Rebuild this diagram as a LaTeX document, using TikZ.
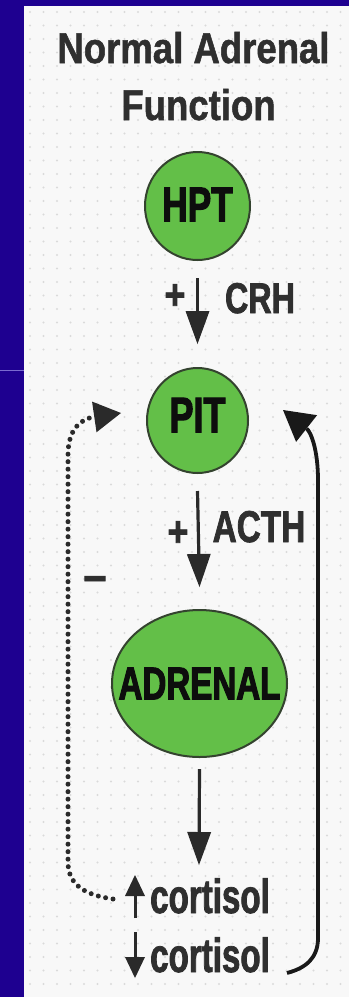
\documentclass[tikz,border=0pt]{standalone}
\usepackage{fontspec}
\setmainfont{Liberation Sans}
\newfontfamily\ttlfont[FakeStretch=0.85,FakeBold=1.2]{Liberation Sans}
\newfontfamily\symfont[FakeStretch=0.85,FakeBold=2]{Liberation Sans}
\newfontfamily\lblfont[FakeStretch=0.75,FakeBold=1.6]{Liberation Sans}
\newfontfamily\orgfont[FakeStretch=0.72,FakeBold=2.2]{Liberation Sans}
\newfontfamily\ctlfont[FakeStretch=0.69,FakeBold=1.6]{Liberation Sans}
\usetikzlibrary{arrows.meta,shapes.geometric}
\definecolor{bgblue}{HTML}{1E0090}
\definecolor{bgline}{HTML}{7A6AD0}
\definecolor{panel}{HTML}{F8F8F8}
\definecolor{dotc}{HTML}{DADADA}
\definecolor{organgreen}{HTML}{63BF48}
\definecolor{edge}{HTML}{34432F}
\definecolor{txt}{HTML}{2F2F2F}
\definecolor{arrc}{HTML}{2A2A2A}
\tikzset{
  ttl/.style={font=\ttlfont\bfseries\fontsize{43}{43}\selectfont, text=txt, inner sep=0pt},
  lbl/.style={font=\lblfont\bfseries\fontsize{43}{43}\selectfont, text=txt, inner sep=0pt},
  ctl/.style={font=\ctlfont\bfseries\fontsize{48}{48}\selectfont, text=txt, inner sep=0pt},
  sym/.style={font=\symfont\bfseries\fontsize{42}{42}\selectfont, text=txt, inner sep=0pt},
  organ/.style={ellipse, draw=edge, line width=2pt, fill=organgreen, inner sep=0pt},
  orglbl/.style={font=\orgfont\bfseries\fontsize{49}{49}\selectfont, text=black!95, inner sep=0pt},
  arr/.style={line width=3.2pt, draw=arrc, -{Triangle[length=33pt,width=24pt,line width=0pt]}},
  sarr/.style={line width=3pt, draw=arrc, -{Triangle[length=21pt,width=20pt,line width=0pt]}},
  fbsolid/.style={line width=3.8pt, draw=black!90, -{Triangle[length=30pt,width=34pt,line width=0pt]}},
  fbdot/.style={line width=5pt, line cap=round, dash pattern=on 0pt off 7.5pt, draw=arrc, -{Triangle[length=27pt,width=31pt,line width=0pt]}}
}
\begin{document}
\begin{tikzpicture}[x=1pt,y=-1pt]
\useasboundingbox (0,0) rectangle (349,997);
\fill[bgblue] (0,0) rectangle (349,997);
\fill[panel] (24,6) rectangle (349,997);
\draw[bgline, line width=1pt] (0,370) -- (24,370);
\foreach \i in {0,...,23} {
  \foreach \j in {0,...,72} {
    \fill[dotc] (30+13.5*\i, 12+13.5*\j) circle (1.2);
  }
}
% title
\node[ttl, anchor=base] (t1) at (193.5,63) {Normal Adrenal};
\node[ttl, anchor=base] (t2) at (198.5,120) {Function};
% organs
\node[organ, minimum width=105pt, minimum height=108pt,
      label={[orglbl, yshift=1.5pt]center:HPT}] (hpt) at (197.5,206) {};
\node[organ, minimum width=101pt, minimum height=105pt,
      label={[orglbl, yshift=5.5pt, font=\orgfont\bfseries\fontsize{50}{50}\selectfont]center:PIT}] (pit) at (197.5,420.5) {};
\node[organ, minimum width=175pt, minimum height=147pt,
      label={[orglbl, font=\orgfont\bfseries\fontsize{46}{46}\selectfont]center:ADRENAL}] (adr) at (199.5,683.5) {};
% labels
\node[lbl, anchor=base] (crh) at (260,313) {CRH};
\node[lbl, anchor=base, font=\lblfont\bfseries\fontsize{44.5}{44.5}\selectfont] (acth) at (259,542) {ACTH};
\node[sym, anchor=base] (p1) at (175,309) {+};
\node[sym, anchor=base] (p2) at (178,546) {+};
\node[sym, anchor=base, font=\symfont\bfseries\fontsize{48}{48}\selectfont] (mn) at (95,591.5) {–};
\node[ctl, anchor=base west] (c1) at (150,913) {cortisol};
\node[ctl, anchor=base west] (c2) at (150,972) {cortisol};
% coordinates
\coordinate (cA) at (199,865);
\coordinate (u1) at (135,918);
\coordinate (u2) at (135,875);
\coordinate (d1) at (135,932);
\coordinate (d2) at (135,978);
\coordinate (fb1) at (113,899);
\coordinate (pitL) at (121,413);
\coordinate (fb2) at (287,973);
\coordinate (pitR) at (283,410);
% main arrows
\draw[arr] ([yshift=-17pt]hpt.south) -- ([yshift=23pt]pit.north);
\draw[arr] ([yshift=-17pt]pit.south) -- ([yshift=22pt]adr.north);
\draw[arr] ([yshift=-11pt]adr.south) -- (cA);
\draw[sarr] (u1) -- (u2);
\draw[sarr] (d1) -- (d2);
% feedback
\draw[fbdot] (fb1) .. controls (85,895) and (68,885) .. (68,862) -- (68,455) .. controls (68,430) and (80,419) .. (pitL);
\draw[fbsolid] (fb2) .. controls (306,968) and (318,958) .. (318,938) -- (318,480) .. controls (318,450) and (311,432) .. (pitR);
\end{tikzpicture}
\end{document}
